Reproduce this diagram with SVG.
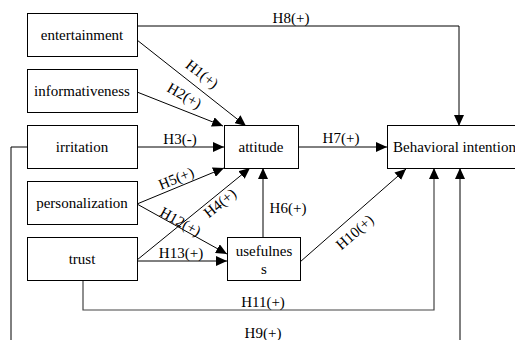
<svg xmlns="http://www.w3.org/2000/svg" width="515" height="340" viewBox="0 0 515 340">
  <style>
    .box { fill: #fff; stroke: #000; stroke-width: 1; }
    text { font-family: 'Liberation Serif', 'Times New Roman', 'DejaVu Serif', serif; font-size: 15px; fill: #000; }
    .mid { text-anchor: middle; }
    .edge { fill: none; stroke: #000; stroke-width: 1; }
    .arr { marker-end: url(#head); }
    .grey { stroke: #444; stroke-width: 1.2; }
  </style>
  <defs>
    <marker id="head" markerUnits="userSpaceOnUse" markerWidth="12" markerHeight="10" refX="11" refY="5" orient="auto">
      <path d="M0,0 L11,5 L0,10 Z" fill="#000"/>
    </marker>
  </defs>
  <rect width="515" height="340" fill="#fff"/>

  <!-- connectors -->
  <g id="connectors" font-family="Liberation Serif, Times New Roman, serif">
    <!-- H8: entertainment -> behavioral intention -->
    <polyline class="edge arr" points="137,26 459,26 459,126"/>
    <text class="mid" x="291" y="23">H8(+)</text>
    <!-- H1 -->
    <line class="edge arr" x1="137" y1="40" x2="246" y2="126"/>
    <text class="mid" transform="translate(199,78) rotate(38)">H1(+)</text>
    <!-- H2 -->
    <line class="edge arr" x1="137" y1="92" x2="223" y2="126"/>
    <text class="mid" transform="translate(182,100) rotate(30)">H2(+)</text>
    <!-- H3 -->
    <line class="edge arr" x1="137" y1="147" x2="224" y2="147"/>
    <text class="mid" x="180" y="144">H3(-)</text>
    <!-- H5 -->
    <line class="edge arr" x1="137" y1="204" x2="224" y2="168"/>
    <text class="mid" transform="translate(178,183) rotate(-22)">H5(+)</text>
    <!-- H4 -->
    <line class="edge arr" x1="137" y1="260" x2="250" y2="168"/>
    <text class="mid" transform="translate(223,207) rotate(-39)">H4(+)</text>
    <!-- H12 -->
    <line class="edge arr" x1="137" y1="204" x2="227" y2="254"/>
    <text class="mid" transform="translate(178,226) rotate(29)">H12(+)</text>
    <!-- H13 -->
    <line class="edge arr" x1="137" y1="261" x2="227" y2="261"/>
    <text class="mid" x="181" y="258">H13(+)</text>
    <!-- H6 -->
    <line class="edge arr" x1="263" y1="237" x2="263" y2="168"/>
    <text class="mid" x="288" y="213">H6(+)</text>
    <!-- H7 -->
    <line class="edge arr" x1="298" y1="147" x2="387" y2="147"/>
    <text class="mid" x="341" y="143">H7(+)</text>
    <!-- H10 -->
    <line class="edge arr" x1="300" y1="262" x2="406" y2="169"/>
    <text class="mid" transform="translate(358,236) rotate(-41)">H10(+)</text>
    <!-- H11: trust -> behavioral intention -->
    <polyline class="edge grey arr" points="83,280 83,310 434,310 434,168"/>
    <text class="mid" x="263" y="307">H11(+)</text>
    <!-- H9: irritation -> behavioral intention (routed below) -->
    <polyline class="edge arr" points="27,147 11,147 11,352 460,352 460,168"/>
    <text class="mid" x="263" y="338">H9(+)</text>
  </g>

  <!-- nodes -->
  <g id="entertainment">
    <rect class="box" x="27.5" y="13.5" width="110" height="43"/>
    <text class="mid" x="82" y="40">entertainment</text>
  </g>
  <g id="informativeness">
    <rect class="box" x="27.5" y="69.5" width="110" height="43"/>
    <text class="mid" x="82" y="96">informativeness</text>
  </g>
  <g id="irritation">
    <rect class="box" x="27.5" y="125.5" width="110" height="43"/>
    <text class="mid" x="82" y="152">irritation</text>
  </g>
  <g id="personalization">
    <rect class="box" x="27.5" y="181.5" width="110" height="43"/>
    <text class="mid" x="82" y="208">personalization</text>
  </g>
  <g id="trust">
    <rect class="box" x="27.5" y="237.5" width="110" height="43"/>
    <text class="mid" x="82" y="264">trust</text>
  </g>
  <g id="attitude">
    <rect class="box" x="224.5" y="125.5" width="74" height="43"/>
    <text class="mid" x="261" y="152">attitude</text>
  </g>
  <g id="usefulness">
    <rect class="box" x="227.5" y="237.5" width="73" height="43"/>
    <text class="mid" x="264" y="256">usefulnes</text>
    <text class="mid" x="264" y="274">s</text>
  </g>
  <g id="behavioral-intention">
    <rect class="box" x="387.5" y="125.5" width="136" height="43"/>
    <text x="393" y="152">Behavioral intention</text>
  </g>
</svg>
